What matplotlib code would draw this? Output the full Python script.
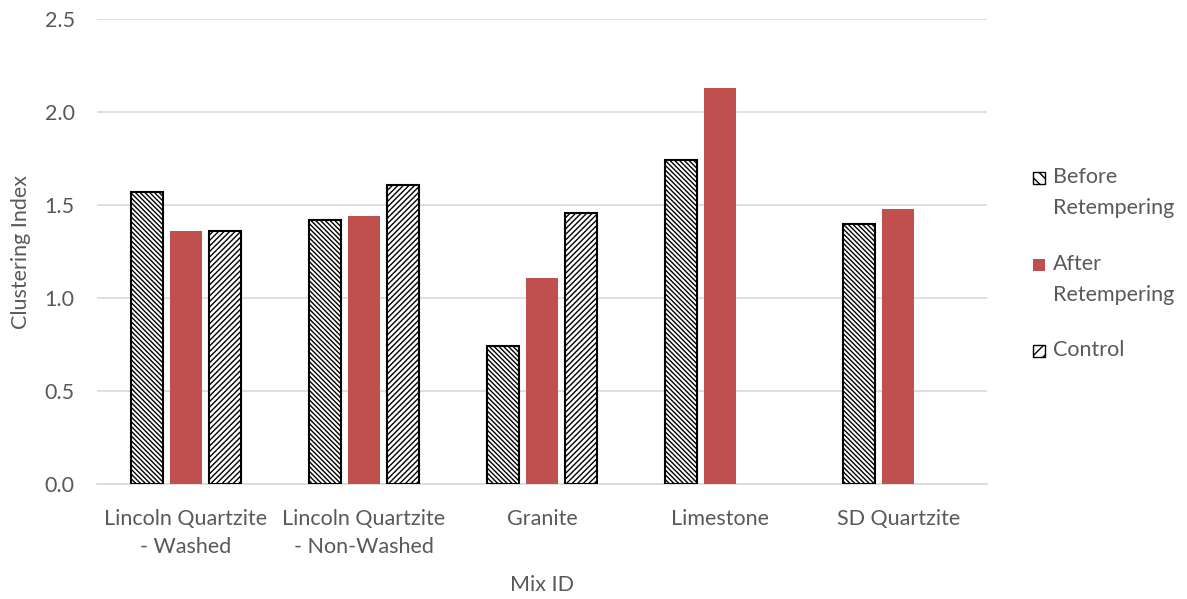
import matplotlib
matplotlib.use("Agg")
import matplotlib.pyplot as plt
from matplotlib.patches import Rectangle
import numpy as np

categories = ["Lincoln Quartzite\n- Washed", "Lincoln Quartzite\n- Non-Washed",
              "Granite", "Limestone", "SD Quartzite"]
before = [1.57, 1.42, 0.74, 1.74, 1.40]
after = [1.36, 1.44, 1.11, 2.13, 1.48]
control = [1.36, 1.61, 1.46, None, None]
series_labels = ["Before\nRetempering", "After\nRetempering", "Control"]
yticks = [0.0, 0.5, 1.0, 1.5, 2.0, 2.5]

plt.rcParams["font.family"] = ["Lato", "DejaVu Sans"]
plt.rcParams["hatch.linewidth"] = 1.0
text_color = "#595959"
red = "#C0504D"
fs = 15.5

fig = plt.figure(figsize=(11.87, 5.99), dpi=100)
ax = fig.add_axes([0.0817, 0.192, 0.75, 0.776])

x = np.arange(len(categories))
w = 0.18
step = 0.22

def vals(v):
    return [np.nan if a is None else a for a in v]

hatch_before = "\\" * 7
hatch_control = "/" * 6
ax.bar(x - step, vals(before), w, facecolor="white", edgecolor="black",
       hatch=hatch_before, linewidth=1.5, zorder=3)
ax.bar(x, vals(after), w, facecolor=red, edgecolor="none", zorder=3)
ax.bar(x + step, vals(control), w, facecolor="white", edgecolor="black",
       hatch=hatch_control, linewidth=1.5, zorder=3)

ax.set_xlim(-0.5, len(categories) - 0.5)
ax.set_ylim(0, 2.5)
ax.set_yticks(yticks)
ax.set_yticklabels([f"{t:.1f}" for t in yticks])
ax.set_xticks(x)
ax.set_xticklabels(categories, linespacing=1.5)
ax.yaxis.grid(True, color="#D9D9D9", linewidth=1.2, zorder=0)
for s in ["top", "right", "left"]:
    ax.spines[s].set_visible(False)
ax.spines["bottom"].set_color("#D9D9D9")
ax.spines["bottom"].set_linewidth(1.2)
ax.tick_params(axis="both", length=0, labelsize=fs, colors=text_color)
ax.tick_params(axis="y", pad=16)
ax.tick_params(axis="x", pad=18)

ax.set_xlabel("Mix ID", fontsize=fs, color=text_color, labelpad=13)
ax.set_ylabel("Clustering Index", fontsize=fs, color=text_color)
ax.yaxis.set_label_coords(-0.074, 0.5)

# legend drawn in figure pixel coordinates
W, H = 1187, 599
entries = [
    (series_labels[0], dict(facecolor="white", edgecolor="black", hatch="\\\\\\"), 178),
    (series_labels[1], dict(facecolor=red, edgecolor="none"), 265),
    (series_labels[2], dict(facecolor="white", edgecolor="black", hatch="///"), 351),
]
box = 12
for label, style, yc in entries:
    fig.patches.append(Rectangle((1033 / W, 1 - (yc + box / 2) / H), box / W, box / H,
                                 transform=fig.transFigure, linewidth=1.0, **style))
    fig.text(1053 / W, 1 - (yc - 11) / H, label, fontsize=fs, color=text_color,
             ha="left", va="top", linespacing=1.7)

fig.savefig("out.png", dpi=100)
